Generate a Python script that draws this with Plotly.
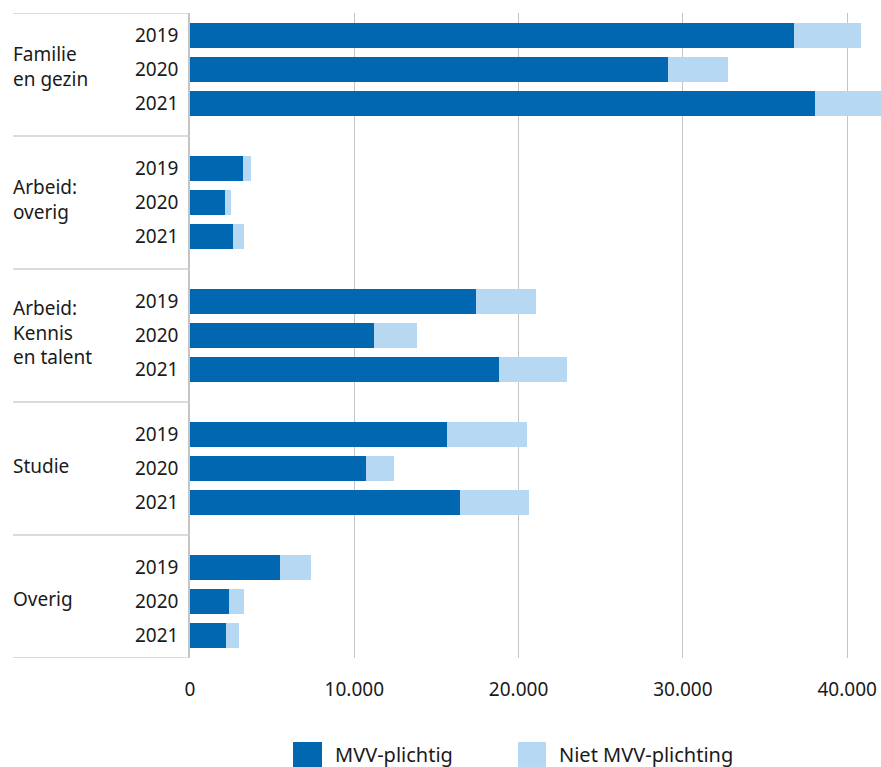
import plotly.graph_objects as go

groups = ["Familie<br>en gezin", "Arbeid:<br>overig", "Arbeid:<br>Kennis<br>en talent", "Studie", "Overig"]
years = ["2019", "2020", "2021"]
# values per group, per year (2019, 2020, 2021)
mvv = [
    [36760, 29090, 38040],
    [3230, 2130, 2620],
    [17390, 11190, 18780],
    [15620, 10700, 16410],
    [5480, 2370, 2190],
]
niet_mvv = [
    [4080, 3650, 4020],
    [480, 370, 670],
    [3640, 2610, 4140],
    [4870, 1700, 4200],
    [1880, 920, 790],
]
series_names = ["MVV-plichtig", "Niet MVV-plichting"]
x_ticks = [0, 10000, 20000, 30000, 40000]

DARK = "#0167b1"
LIGHT = "#b6d8f2"
TEXT = "#1a1a1a"
FONT = "Noto Sans"

GSTEP = 3.91  # group step in bar slots
pos = []
ylab = []
v1 = []
v2 = []
for g in range(len(groups)):
    for i in range(len(years)):
        pos.append(g * GSTEP + i)
        ylab.append(years[i])
        v1.append(mvv[g][i])
        v2.append(niet_mvv[g][i])

fig = go.Figure()
fig.add_trace(go.Bar(y=pos, x=v1, orientation="h", marker=dict(color=DARK, line=dict(width=0)),
                     width=0.735, name=series_names[0], showlegend=False))
fig.add_trace(go.Bar(y=pos, x=v2, orientation="h", marker=dict(color=LIGHT, line=dict(width=0)),
                     width=0.735, name=series_names[1], showlegend=False))

W, H = 881, 767
ml, mr, mt, mb = 190, 0, 13, 767 - 658
pw = W - ml - mr
ph = H - mt - mb
ytop = -0.662
ybot = (len(groups) - 1) * GSTEP + 2 + 0.66

def px_x(px):
    return (px - ml) / pw

def px_y(py):
    return 1 - (py - mt) / ph

shapes = []
annotations = []
# separators
seps = [ytop] + [g * GSTEP + 2 + (GSTEP - 2) / 2 for g in range(len(groups) - 1)] + [ybot]
for s in seps:
    shapes.append(dict(type="line", xref="paper", yref="y", x0=px_x(13), x1=0, y0=s, y1=s,
                       line=dict(color="#cfcfcf", width=1.5), layer="above"))
# group labels
for g, name in enumerate(groups):
    annotations.append(dict(xref="paper", yref="y", x=px_x(11), y=g * GSTEP + 1, text=name,
                            showarrow=False, xanchor="left", yanchor="middle", align="left",
                            yshift=3, font=dict(family=FONT, size=19, color=TEXT)))

# custom legend
legend_items = [(293, 322, 333, DARK, series_names[0]), (518, 546, 557, LIGHT, series_names[1])]
for x0, x1, tx, col, name in legend_items:
    shapes.append(dict(type="rect", xref="paper", yref="paper", x0=px_x(x0), x1=px_x(x1),
                       y0=px_y(768), y1=px_y(742), fillcolor=col, line=dict(width=0)))
    annotations.append(dict(xref="paper", yref="paper", x=px_x(tx), y=px_y(754), text=name,
                            showarrow=False, xanchor="left", yanchor="middle",
                            font=dict(family=FONT, size=20, color=TEXT)))

fig.update_layout(
    width=W, height=H,
    margin=dict(l=ml, r=mr, t=mt, b=mb, pad=0),
    barmode="stack",
    plot_bgcolor="white", paper_bgcolor="white",
    separators=",.",
    font=dict(family=FONT, size=19, color=TEXT),
    shapes=shapes, annotations=annotations,
    showlegend=False,
    xaxis=dict(range=[0, 42060], tickvals=x_ticks, tickformat=",d", showgrid=True,
               gridcolor="#c4c4c4", gridwidth=1.3, zeroline=False, showline=False,
               ticks="", ticklabelstandoff=18, tickfont=dict(size=19, color=TEXT), fixedrange=True),
    yaxis=dict(range=[ybot, ytop], tickvals=pos, ticktext=ylab, showgrid=False, zeroline=False,
               showline=True, linecolor="#c4c4c4", linewidth=1.5, ticks="",
               ticklabelstandoff=6, tickfont=dict(size=19, color=TEXT), fixedrange=True),
)

fig.write_html("out.html", config={"displayModeBar": False},
               post_script="document.body.style.margin='0';document.body.style.overflow='hidden';")
